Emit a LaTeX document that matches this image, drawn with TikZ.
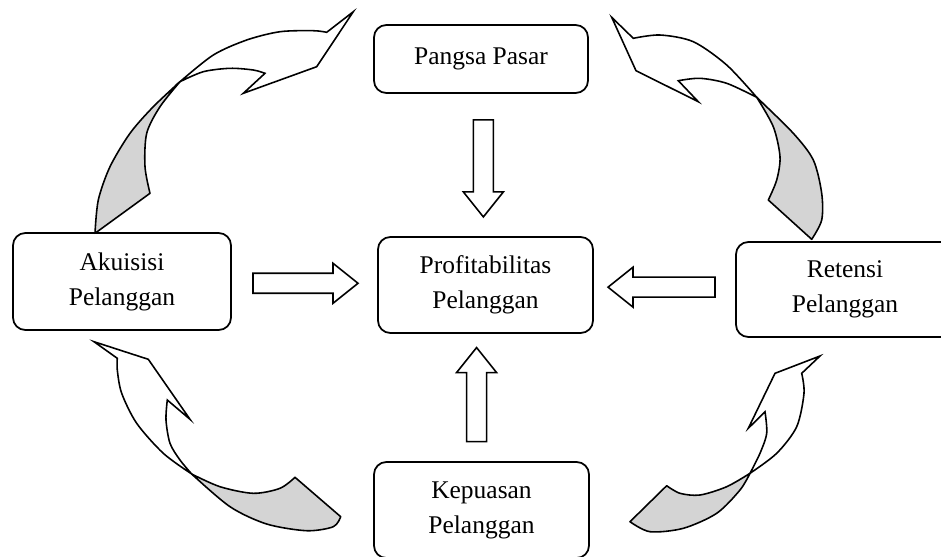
\documentclass[tikz,border=0pt]{standalone}
\usepackage{fontspec}
\setmainfont{Liberation Serif}
\usetikzlibrary{calc}
\tikzset{
  box/.style={draw, line width=1pt, rounded corners=7pt, align=center, font=\fontsize{14.5}{20}\selectfont},
  twist/.style={draw, line width=0.9pt, fill=black!17, line join=round},
  ribbon/.style={draw, line width=0.9pt, fill=white, line join=miter},
  pics/barrow/.style={code={\draw[line width=0.9pt, fill=white] (-#1/2,-10)--(#1/2-25,-10)--(#1/2-25,-20)--(#1/2,0)--(#1/2-25,20)--(#1/2-25,10)--(-#1/2,10)--cycle;}}
}
\begin{document}
\begin{tikzpicture}[x=0.02cm, y=-0.02cm, line cap=round]
\clip (0,0) rectangle (941,556);
\node[box, minimum width=4.28cm, minimum height=1.36cm] (pasar) at (481,59) {Pangsa Pasar};
\node[box, minimum width=4.3cm, minimum height=1.92cm] (prof) at (485.5,285) {Profitabilitas\\Pelanggan};
\node[box, minimum width=4.36cm, minimum height=1.94cm] (akuisisi) at (122,281.5) {Akuisisi\\Pelanggan};
\node[box, minimum width=4.36cm, minimum height=1.9cm] (retensi) at (845,289.5) {Retensi\\Pelanggan};
\node[box, minimum width=4.3cm, minimum height=1.92cm] (puas) at (481.5,510) {Kepuasan\\Pelanggan};
\pic[rotate=-90] at ($(pasar.south)!0.524!(prof.north)$) {barrow=97};
\pic at ($(akuisisi.east)!0.507!(prof.west)$) {barrow=105};
\pic[rotate=180] at ($(prof.east)!0.479!(retensi.west)$) {barrow=107};
\pic[rotate=90] at ($(prof.south)!0.477!(puas.north)+(-7,0)$) {barrow=94};
% curved arrows round the cycle
\filldraw[twist] plot[smooth] coordinates {(95,233.3) (98.3,200) (110,166.7) (130,133.3) (153.3,106.7) (180,81.7)}
  -- plot[smooth] coordinates {(180,81.7) (160,106.7) (146.7,133.3) (145,166.7) (150,193.3)} -- cycle;
\filldraw[ribbon] plot[smooth] coordinates {(180,81.7) (213.3,55) (246.7,40) (280,31.7) (313.3,30.7) (326.7,32.3)}
  -- (353.3,11.7) -- (316.7,66.7) -- (243.3,93.3) -- (265,73.3)
  -- plot[smooth] coordinates {(265,73.3) (253.3,70) (230,68.3) (203.3,71.7) (180,81.7)} -- cycle;
\filldraw[twist] plot[smooth] coordinates {(756.7,97.3) (793.3,133.3) (813.3,160) (821.7,193.3) (821.7,220) (811.7,239.3)}
  -- (768.3,200) -- plot[smooth] coordinates {(768.3,200) (776.7,180) (780,156.7) (773.3,126.7) (756.7,97.3)} -- cycle;
\filldraw[ribbon] plot[smooth] coordinates {(756.7,97.3) (726.7,65) (693.3,41.7) (660,35) (633.3,38.3)}
  -- (611.7,17.3) -- (636,70.7) -- (698.3,101.7) -- (678.3,80.7)
  -- plot[smooth] coordinates {(678.3,80.7) (700,78.3) (726.7,83.3) (756.7,97.3)} -- cycle;
\filldraw[twist] plot[smooth] coordinates {(191.7,474) (220,486.7) (253.3,493.3) (280,488.3) (295,477.3)}
  -- (340.7,516.7) -- plot[smooth] coordinates {(340.7,516.7) (333.3,526.7) (306.7,530.7) (266.7,524) (230,506.7) (191.7,474)} -- cycle;
\filldraw[ribbon] (117.3,358.3) -- (94,341.7) -- (148.3,359.3) -- (190,419.3) -- (167.3,400)
  -- plot[smooth] coordinates {(167.3,400) (166,420) (170,443.3) (180,460) (191.7,474)}
  -- plot[smooth] coordinates {(191.7,474) (163.3,453.3) (136.7,423.3) (121.7,393.3) (117.3,370) (117.3,358.3)} -- cycle;
\filldraw[twist] plot[smooth] coordinates {(750,473.3) (726.7,486.7) (700,495) (680,493.3) (666.7,485.7)}
  -- (630,521.7) -- plot[smooth] coordinates {(630,521.7) (650,531.7) (683.3,528.3) (716.7,513.3) (740,490) (750,473.3)} -- cycle;
\filldraw[ribbon] (820,356) -- (801.7,373.3)
  -- plot[smooth] coordinates {(801.7,373.3) (804,393.3) (796.7,426.7) (776.7,453.3) (750,473.3)}
  -- plot[smooth] coordinates {(750,473.3) (760,453.3) (766.7,433.3) (765,411.7)}
  -- (748.3,428.3) -- (775,373.3) -- cycle;
\end{tikzpicture}
\end{document}
